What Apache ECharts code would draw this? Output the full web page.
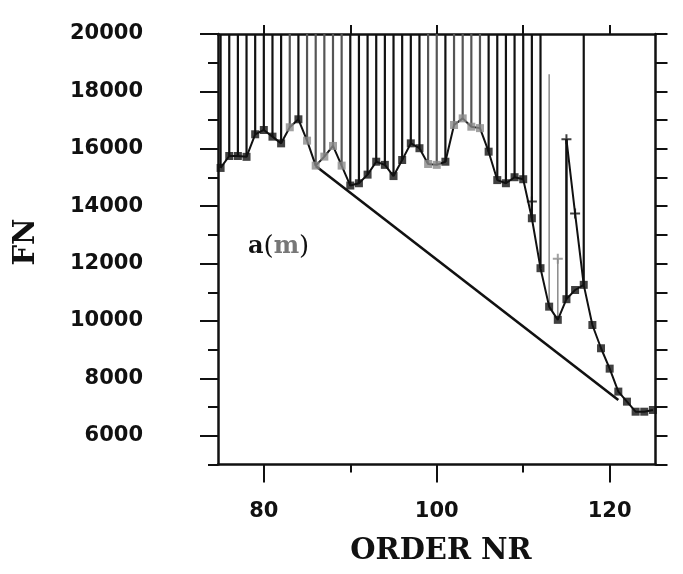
<!DOCTYPE html>
<html>
<head>
<meta charset="utf-8">
<script src="https://cdn.jsdelivr.net/npm/echarts@6/dist/echarts.min.js"></script>
<style>html,body{margin:0;padding:0;background:#fff;}#c{width:683px;height:574px;}</style>
</head>
<body>
<div id="c"></div>
<script>
// ---- data ----
const orders = [75,76,77,78,79,80,81,82,83,84,85,86,87,88,89,90,91,92,93,94,95,96,97,98,99,100,
  101,102,103,104,105,106,107,108,109,110,111,112,113,114,115,116,117,118,119,120,121,122,123,124,125];
const fnValues = [15333,15750,15750,15720,16506,16656,16423,16190,16750,17028,16284,15414,15728,16099,15414,
  14720,14800,15100,15550,15440,15050,15610,16190,16020,15470,15440,15550,16830,17060,16770,16720,
  15900,14910,14800,15010,14940,13580,11840,10500,10040,10760,11080,11260,9860,9050,8340,7540,7190,6840,6840,6900];
const grayOrders = [83,85,86,87,88,89,99,100,102,103,104,105];
const spikeOrders = [75,76,77,78,79,80,81,82,83,84,85,86,87,88,89,90,91,92,93,94,95,96,97,98,99,100,
  101,102,103,104,105,106,107,108,109,110,111,112,117];
const upperOrders = [111,114,115,116];
const upperFN = [14160,12170,16330,13750];
const grayUpper = [114];
const hullOrders = [86,121];
const hullFN = [15400,7250];
const xTickLabels = [80,100,120];
const xMinorTicks = [90,110];
const yTickLabels = [6000,8000,10000,12000,14000,16000,18000,20000];
const FN_TOP = 20000;

const fnOf = n => fnValues[orders.indexOf(n)];
const upOf = n => upperFN[upperOrders.indexOf(n)];
const BLACK = '#111', GRAY = '#8a8a8a';

const spikeData = spikeOrders.map(n => ({
  coords: [[n, FN_TOP], [n, fnOf(n)]],
  lineStyle: { color: grayOrders.includes(n) ? '#555' : BLACK }
}));
const extraData = [
  { coords: [[113, 18600], [113, fnOf(113)]], lineStyle: { color: GRAY, width: 1.5 } },
  { coords: [[114, upOf(114)], [114, fnOf(114)]], lineStyle: { color: GRAY, width: 1.5 } },
  { coords: [[115, upOf(115)], [115, fnOf(115)]], lineStyle: { color: BLACK, width: 2.5 } },
  { coords: [[115, upOf(115)], [116, upOf(116)], [117, fnOf(117)]], lineStyle: { color: BLACK, width: 2 } }
];

const blackPts = [], grayPts = [];
orders.forEach((n, i) => (grayOrders.includes(n) ? grayPts : blackPts).push([n, fnValues[i]]));
const plusBlack = [], plusGray = [];
upperOrders.forEach((n, i) => (grayUpper.includes(n) ? plusGray : plusBlack).push([n, upperFN[i]]));

const PLUS = 'path://M4,0 H6 V4 H10 V6 H6 V10 H4 V6 H0 V4 H4 Z';
const labelFont = { fontFamily: 'DejaVu Sans', fontWeight: 'bold', fontSize: 21, color: BLACK,
  formatter: v => String(v) };
const xMin = 74.7, xMax = 125.3;

const chart = echarts.init(document.getElementById('c'), null, { renderer: 'canvas' });
chart.setOption({
  backgroundColor: '#fff',
  animation: false,
  grid: { left: 218, right: 27.5, top: 34, bottom: 109.5 },
  xAxis: [
    { type: 'value', position: 'bottom', min: xMin, max: xMax,
      axisLine: { lineStyle: { color: BLACK, width: 2.5 } },
      axisTick: { inside: false, customValues: xTickLabels, length: 18, lineStyle: { color: BLACK, width: 2 } },
      axisLabel: Object.assign({ customValues: xTickLabels, margin: 37 }, labelFont),
      splitLine: { show: false } },
    { type: 'value', position: 'bottom', min: xMin, max: xMax,
      axisLine: { show: false },
      axisTick: { inside: false, customValues: xMinorTicks, length: 8, lineStyle: { color: BLACK, width: 2 } },
      axisLabel: { show: false }, splitLine: { show: false } },
    { type: 'value', position: 'top', min: xMin, max: xMax,
      axisLine: { lineStyle: { color: BLACK, width: 2.5 } },
      axisTick: { inside: false, customValues: [80, 90, 100, 110, 120], length: 9, lineStyle: { color: BLACK, width: 2 } },
      axisLabel: { show: false }, splitLine: { show: false } }
  ],
  yAxis: [
    { type: 'value', position: 'left', min: 5000, max: 20000,
      axisLine: { show: true, lineStyle: { color: BLACK, width: 2.5 } },
      axisTick: { inside: false, customValues: yTickLabels, length: 18, lineStyle: { color: BLACK, width: 2 } },
      axisLabel: Object.assign({ customValues: yTickLabels, margin: 75 }, labelFont),
      splitLine: { show: false } },
    { type: 'value', position: 'left', min: 5000, max: 20000, interval: 1000,
      axisLine: { show: false },
      axisTick: { show: true, inside: false, length: 10, lineStyle: { color: BLACK, width: 2 } },
      axisLabel: { show: false }, splitLine: { show: false } },
    { type: 'value', position: 'right', min: 5000, max: 20000, interval: 1000,
      axisLine: { show: true, lineStyle: { color: BLACK, width: 2.5 } },
      axisTick: { show: true, inside: false, length: 12, lineStyle: { color: BLACK, width: 2 } },
      axisLabel: { show: false }, splitLine: { show: false } }
  ],
  series: [
    { type: 'lines', coordinateSystem: 'cartesian2d', polyline: true, xAxisIndex: 0, yAxisIndex: 0,
      lineStyle: { width: 2.2, opacity: 1 }, data: spikeData, z: 2 },
    { type: 'lines', coordinateSystem: 'cartesian2d', polyline: true, xAxisIndex: 0, yAxisIndex: 0,
      lineStyle: { opacity: 1 }, data: extraData, z: 2 },
    { type: 'line', xAxisIndex: 0, yAxisIndex: 0, data: orders.map((n, i) => [n, fnValues[i]]),
      showSymbol: false, lineStyle: { color: BLACK, width: 2 }, z: 3 },
    { type: 'line', xAxisIndex: 0, yAxisIndex: 0, data: hullOrders.map((n, i) => [n, hullFN[i]]),
      showSymbol: false, lineStyle: { color: BLACK, width: 2.6 }, z: 3 },
    { type: 'scatter', xAxisIndex: 0, yAxisIndex: 0, data: blackPts, symbol: 'rect', symbolSize: 8,
      itemStyle: { color: BLACK }, z: 4 },
    { type: 'scatter', xAxisIndex: 0, yAxisIndex: 0, data: grayPts, symbol: 'rect', symbolSize: 8,
      itemStyle: { color: GRAY }, z: 4 },
    { type: 'scatter', xAxisIndex: 0, yAxisIndex: 0, data: plusBlack, symbol: PLUS, symbolSize: 10,
      itemStyle: { color: BLACK }, z: 5 },
    { type: 'scatter', xAxisIndex: 0, yAxisIndex: 0, data: plusGray, symbol: PLUS, symbolSize: 10,
      itemStyle: { color: GRAY }, z: 5 }
  ],
  graphic: [
    { type: 'text', x: 441, y: 551, style: { text: 'ORDER NR', font: 'bold 29px "DejaVu Serif"',
      fill: BLACK, textAlign: 'center', textVerticalAlign: 'middle' } },
    { type: 'text', x: 26, y: 242, rotation: Math.PI / 2, style: { text: 'FN', font: 'bold 29px "DejaVu Serif"',
      fill: BLACK, textAlign: 'center', textVerticalAlign: 'middle' } },
    { type: 'text', x: 248, y: 247, style: { text: '{a|a}{p|(}{m|m}{p|)}', textVerticalAlign: 'middle',
      rich: { a: { font: 'bold 24px "DejaVu Serif"', fill: BLACK },
              p: { font: '26px "DejaVu Serif"', fill: BLACK },
              m: { font: 'bold 24px "DejaVu Serif"', fill: '#777' } } } }
  ]
});
</script>
</body>
</html>
